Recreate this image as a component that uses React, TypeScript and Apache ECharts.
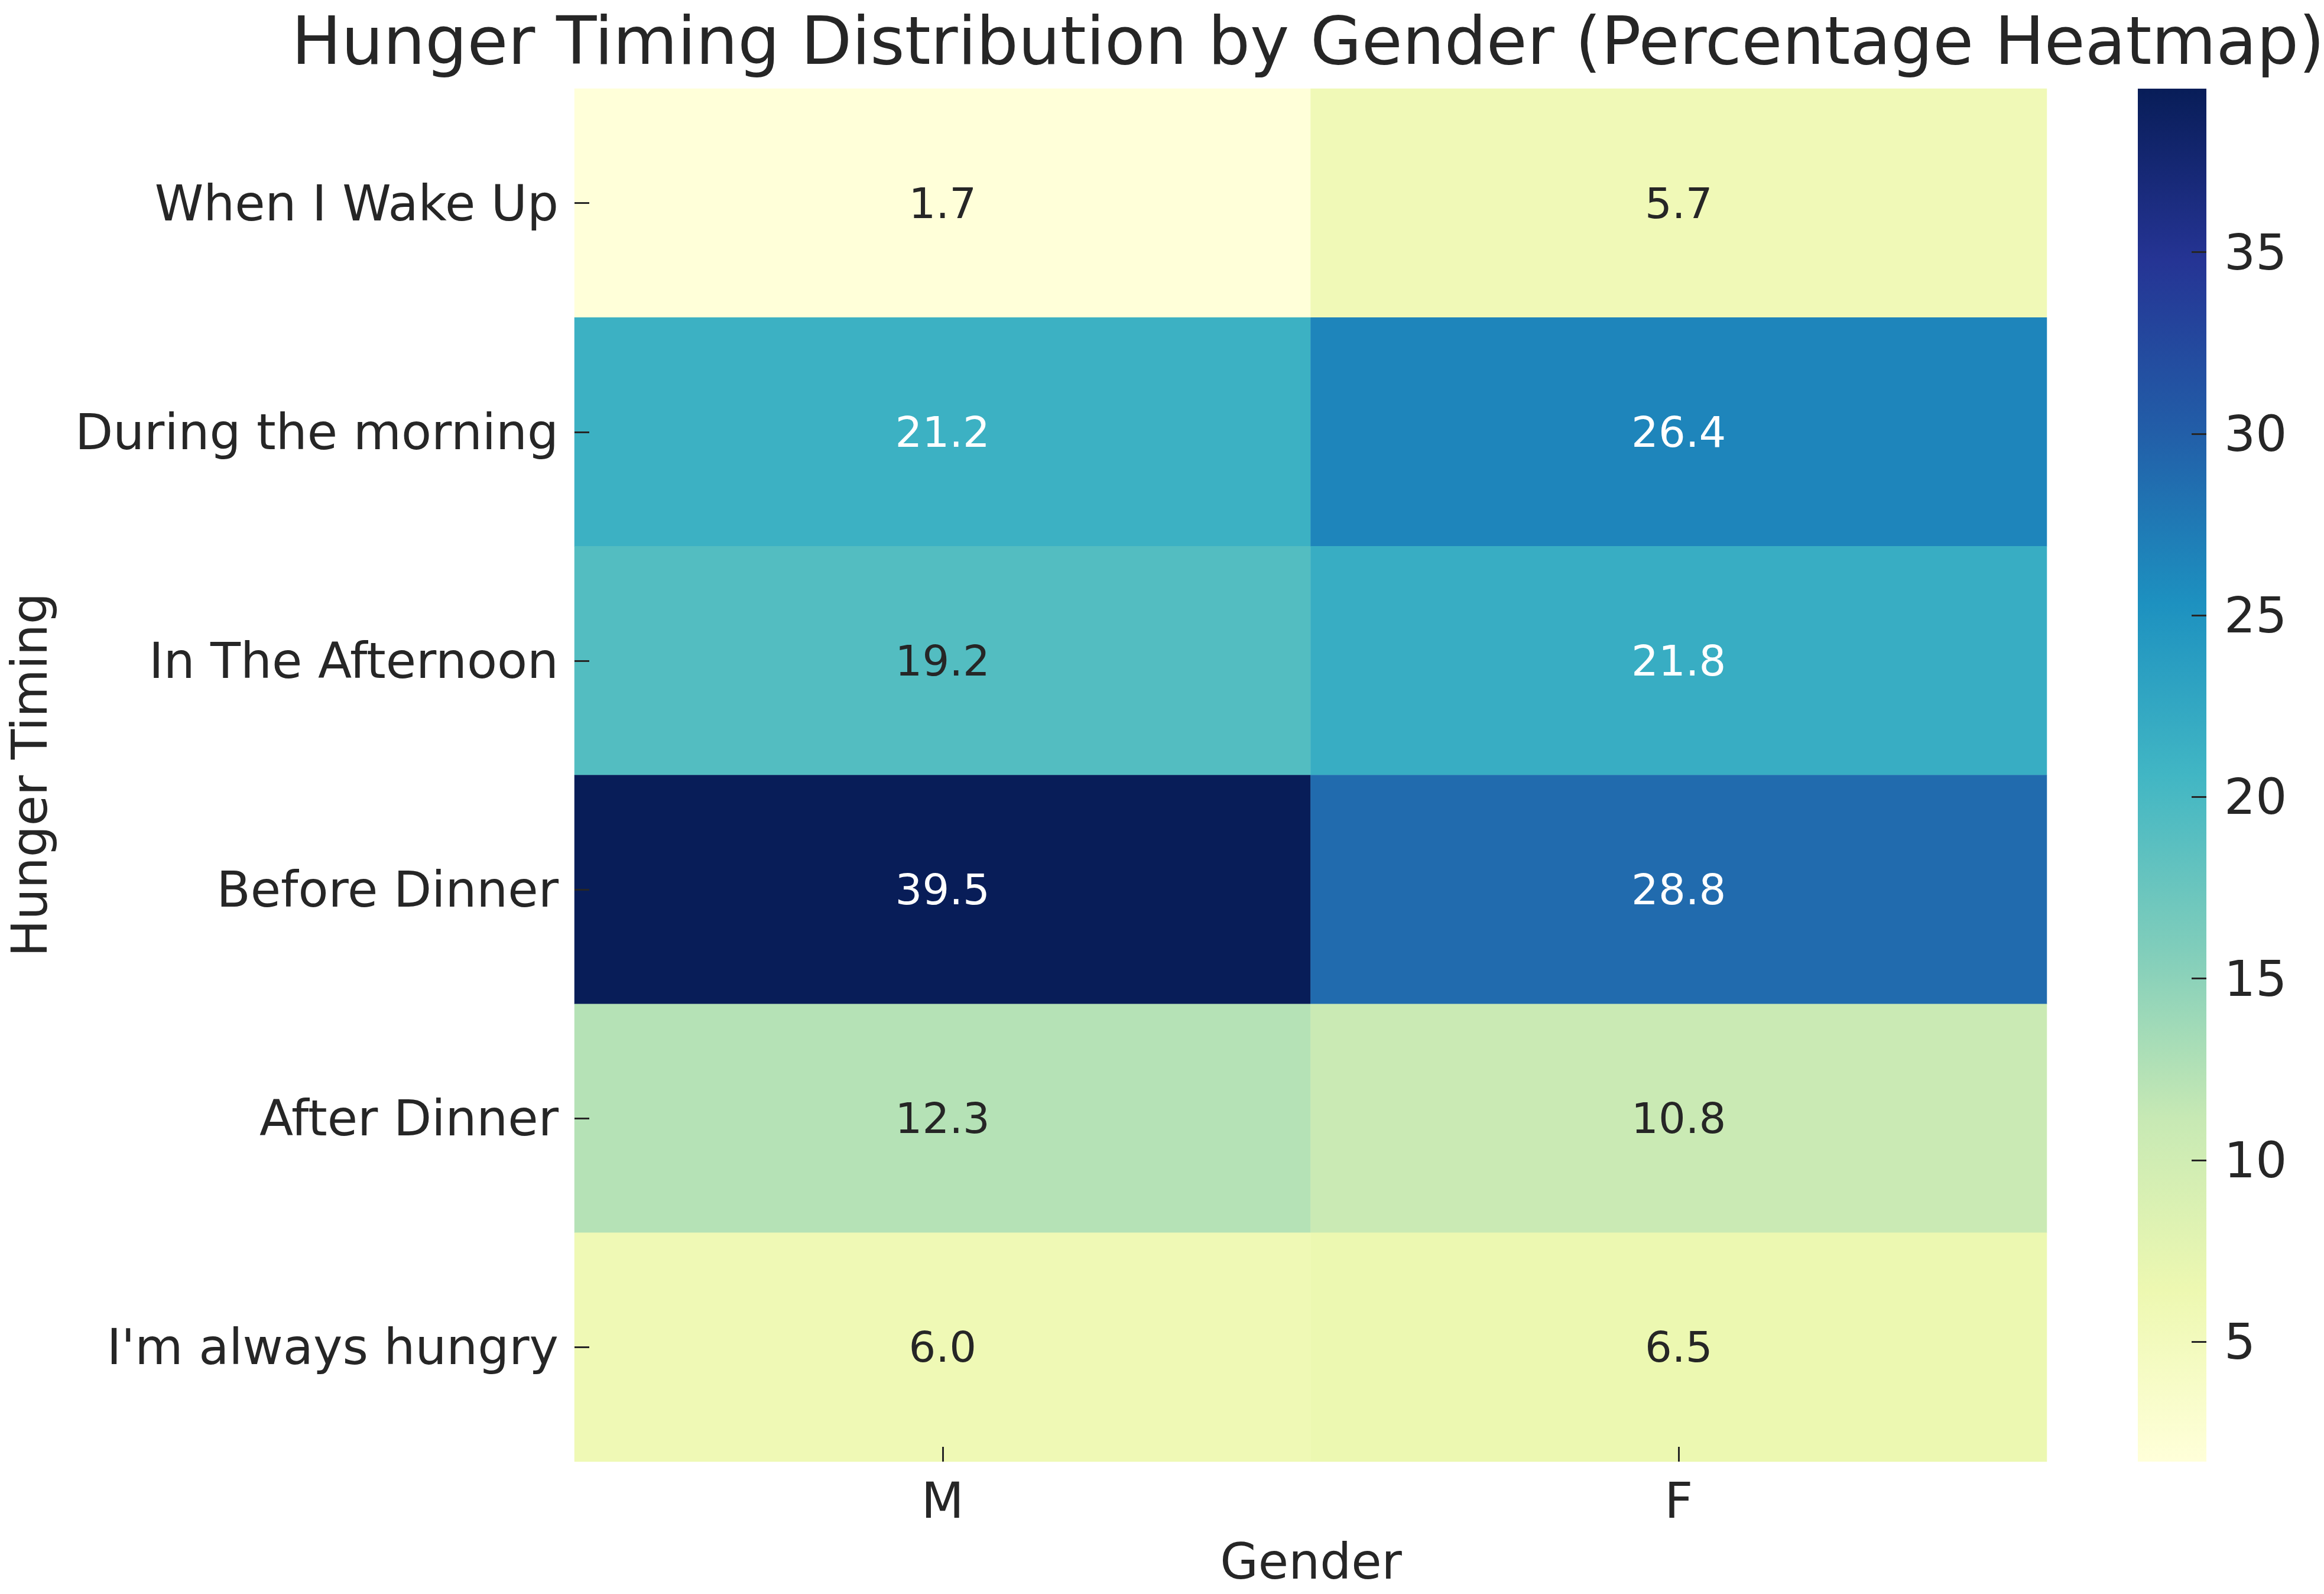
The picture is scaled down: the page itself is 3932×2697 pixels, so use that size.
import React, { useEffect, useRef } from "react";
import * as echarts from "echarts";

const titleText = "Hunger Timing Distribution by Gender (Percentage Heatmap)";
const xAxisName = "Gender";
const yAxisName = "Hunger Timing";
const genders = ["M", "F"];
const timings = [
  "When I Wake Up",
  "During the morning",
  "In The Afternoon",
  "Before Dinner",
  "After Dinner",
  "I'm always hungry",
];
const maleValues = [1.7, 21.2, 19.2, 39.5, 12.3, 6.0];
const femaleValues = [5.7, 26.4, 21.8, 28.8, 10.8, 6.5];
const colorbarTicks = [5, 10, 15, 20, 25, 30, 35];
const ylgnbu = [
  "#ffffd9",
  "#edf8b1",
  "#c7e9b4",
  "#7fcdbb",
  "#41b6c4",
  "#1d91c0",
  "#225ea8",
  "#253494",
  "#081d58",
];

const TEXT = "#262626";
const FONT = "DejaVu Sans";

export default function App() {
  const ref = useRef<HTMLDivElement>(null);

  useEffect(() => {
    document.body.style.margin = "0";
    const chart = echarts.init(ref.current!, null, { renderer: "svg" });

    const columns = [maleValues, femaleValues];
    const all = [...maleValues, ...femaleValues];
    const vmin = Math.min(...all);
    const vmax = Math.max(...all);

    const data: any[] = [];
    columns.forEach((col, xi) => {
      col.forEach((v, yi) => {
        data.push({
          value: [xi, yi, v],
          label: { color: v > 20 ? "#ffffff" : TEXT },
        });
      });
    });

    const gradient = new echarts.graphic.LinearGradient(
      0,
      1,
      0,
      0,
      ylgnbu.map((c, i) => ({ offset: i / (ylgnbu.length - 1), color: c }))
    );

    const gridLeft = 972;
    const gridTop = 150;
    const gridW = 2491;
    const gridH = 2323;
    const cbWidth = 116;
    const tickLen = 25;

    const tickStyle = { color: TEXT, width: 3 };

    chart.setOption({
      animation: false,
      backgroundColor: "#ffffff",
      textStyle: { fontFamily: FONT },
      grid: [
        { left: gridLeft, top: gridTop, width: gridW, height: gridH },
        { left: 3617, top: gridTop, width: cbWidth, height: gridH },
      ],
      xAxis: [
        {
          type: "category",
          gridIndex: 0,
          data: genders,
          z: 10,
          axisLine: { show: false },
          splitLine: { show: false },
          axisTick: {
            show: true,
            inside: true,
            alignWithLabel: true,
            interval: 0,
            length: tickLen,
            lineStyle: tickStyle,
          },
          axisLabel: {
            fontSize: 83.5,
            color: TEXT,
            fontFamily: FONT,
            margin: 24,
          },
        },
        {
          type: "category",
          gridIndex: 1,
          data: ["colorbar"],
          show: false,
        },
      ],
      yAxis: [
        {
          type: "category",
          gridIndex: 0,
          data: timings,
          inverse: true,
          z: 10,
          axisLine: { show: false },
          splitLine: { show: false },
          axisTick: {
            show: true,
            inside: true,
            alignWithLabel: true,
            interval: 0,
            length: tickLen,
            lineStyle: tickStyle,
          },
          axisLabel: {
            fontSize: 83.5,
            color: TEXT,
            fontFamily: FONT,
            margin: 27,
            interval: 0,
          },
        },
        {
          type: "value",
          gridIndex: 1,
          position: "right",
          min: vmin,
          max: vmax,
          z: 10,
          axisLine: { show: false, onZero: false },
          splitLine: { show: false },
          axisTick: {
            show: true,
            inside: true,
            length: tickLen,
            customValues: colorbarTicks,
            lineStyle: tickStyle,
          },
          axisLabel: {
            show: true,
            customValues: colorbarTicks,
            fontSize: 83.5,
            color: TEXT,
            fontFamily: FONT,
            margin: 30,
          },
        },
      ],
      visualMap: {
        type: "continuous",
        show: false,
        seriesIndex: 0,
        dimension: 2,
        min: vmin,
        max: vmax,
        inRange: { color: ylgnbu },
      },
      series: [
        {
          type: "heatmap",
          xAxisIndex: 0,
          yAxisIndex: 0,
          data,
          label: {
            show: true,
            fontSize: 72,
            fontFamily: FONT,
            formatter: (p: any) => p.value[2].toFixed(1),
          },
          itemStyle: { borderWidth: 0 },
          emphasis: { disabled: true },
        },
        {
          type: "bar",
          xAxisIndex: 1,
          yAxisIndex: 1,
          data: [vmax],
          barWidth: "100%",
          clip: true,
          silent: true,
          z: 1,
          itemStyle: { color: gradient },
          emphasis: { disabled: true },
        },
      ],
      graphic: [
        {
          type: "text",
          x: 2213,
          y: 69,
          style: {
            text: titleText,
            fontSize: 112,
            fontFamily: FONT,
            fill: TEXT,
            textAlign: "center",
            textVerticalAlign: "middle",
          },
        },
        {
          type: "text",
          x: 2218,
          y: 2642,
          style: {
            text: xAxisName,
            fontSize: 83.5,
            fontFamily: FONT,
            fill: TEXT,
            textAlign: "center",
            textVerticalAlign: "middle",
          },
        },
        {
          type: "text",
          x: 50,
          y: 1311,
          rotation: Math.PI / 2,
          style: {
            text: yAxisName,
            fontSize: 83.5,
            fontFamily: FONT,
            fill: TEXT,
            textAlign: "center",
            textVerticalAlign: "middle",
          },
        },
      ],
    });

    return () => chart.dispose();
  }, []);

  return <div ref={ref} style={{ width: 3932, height: 2697 }} />;
}
